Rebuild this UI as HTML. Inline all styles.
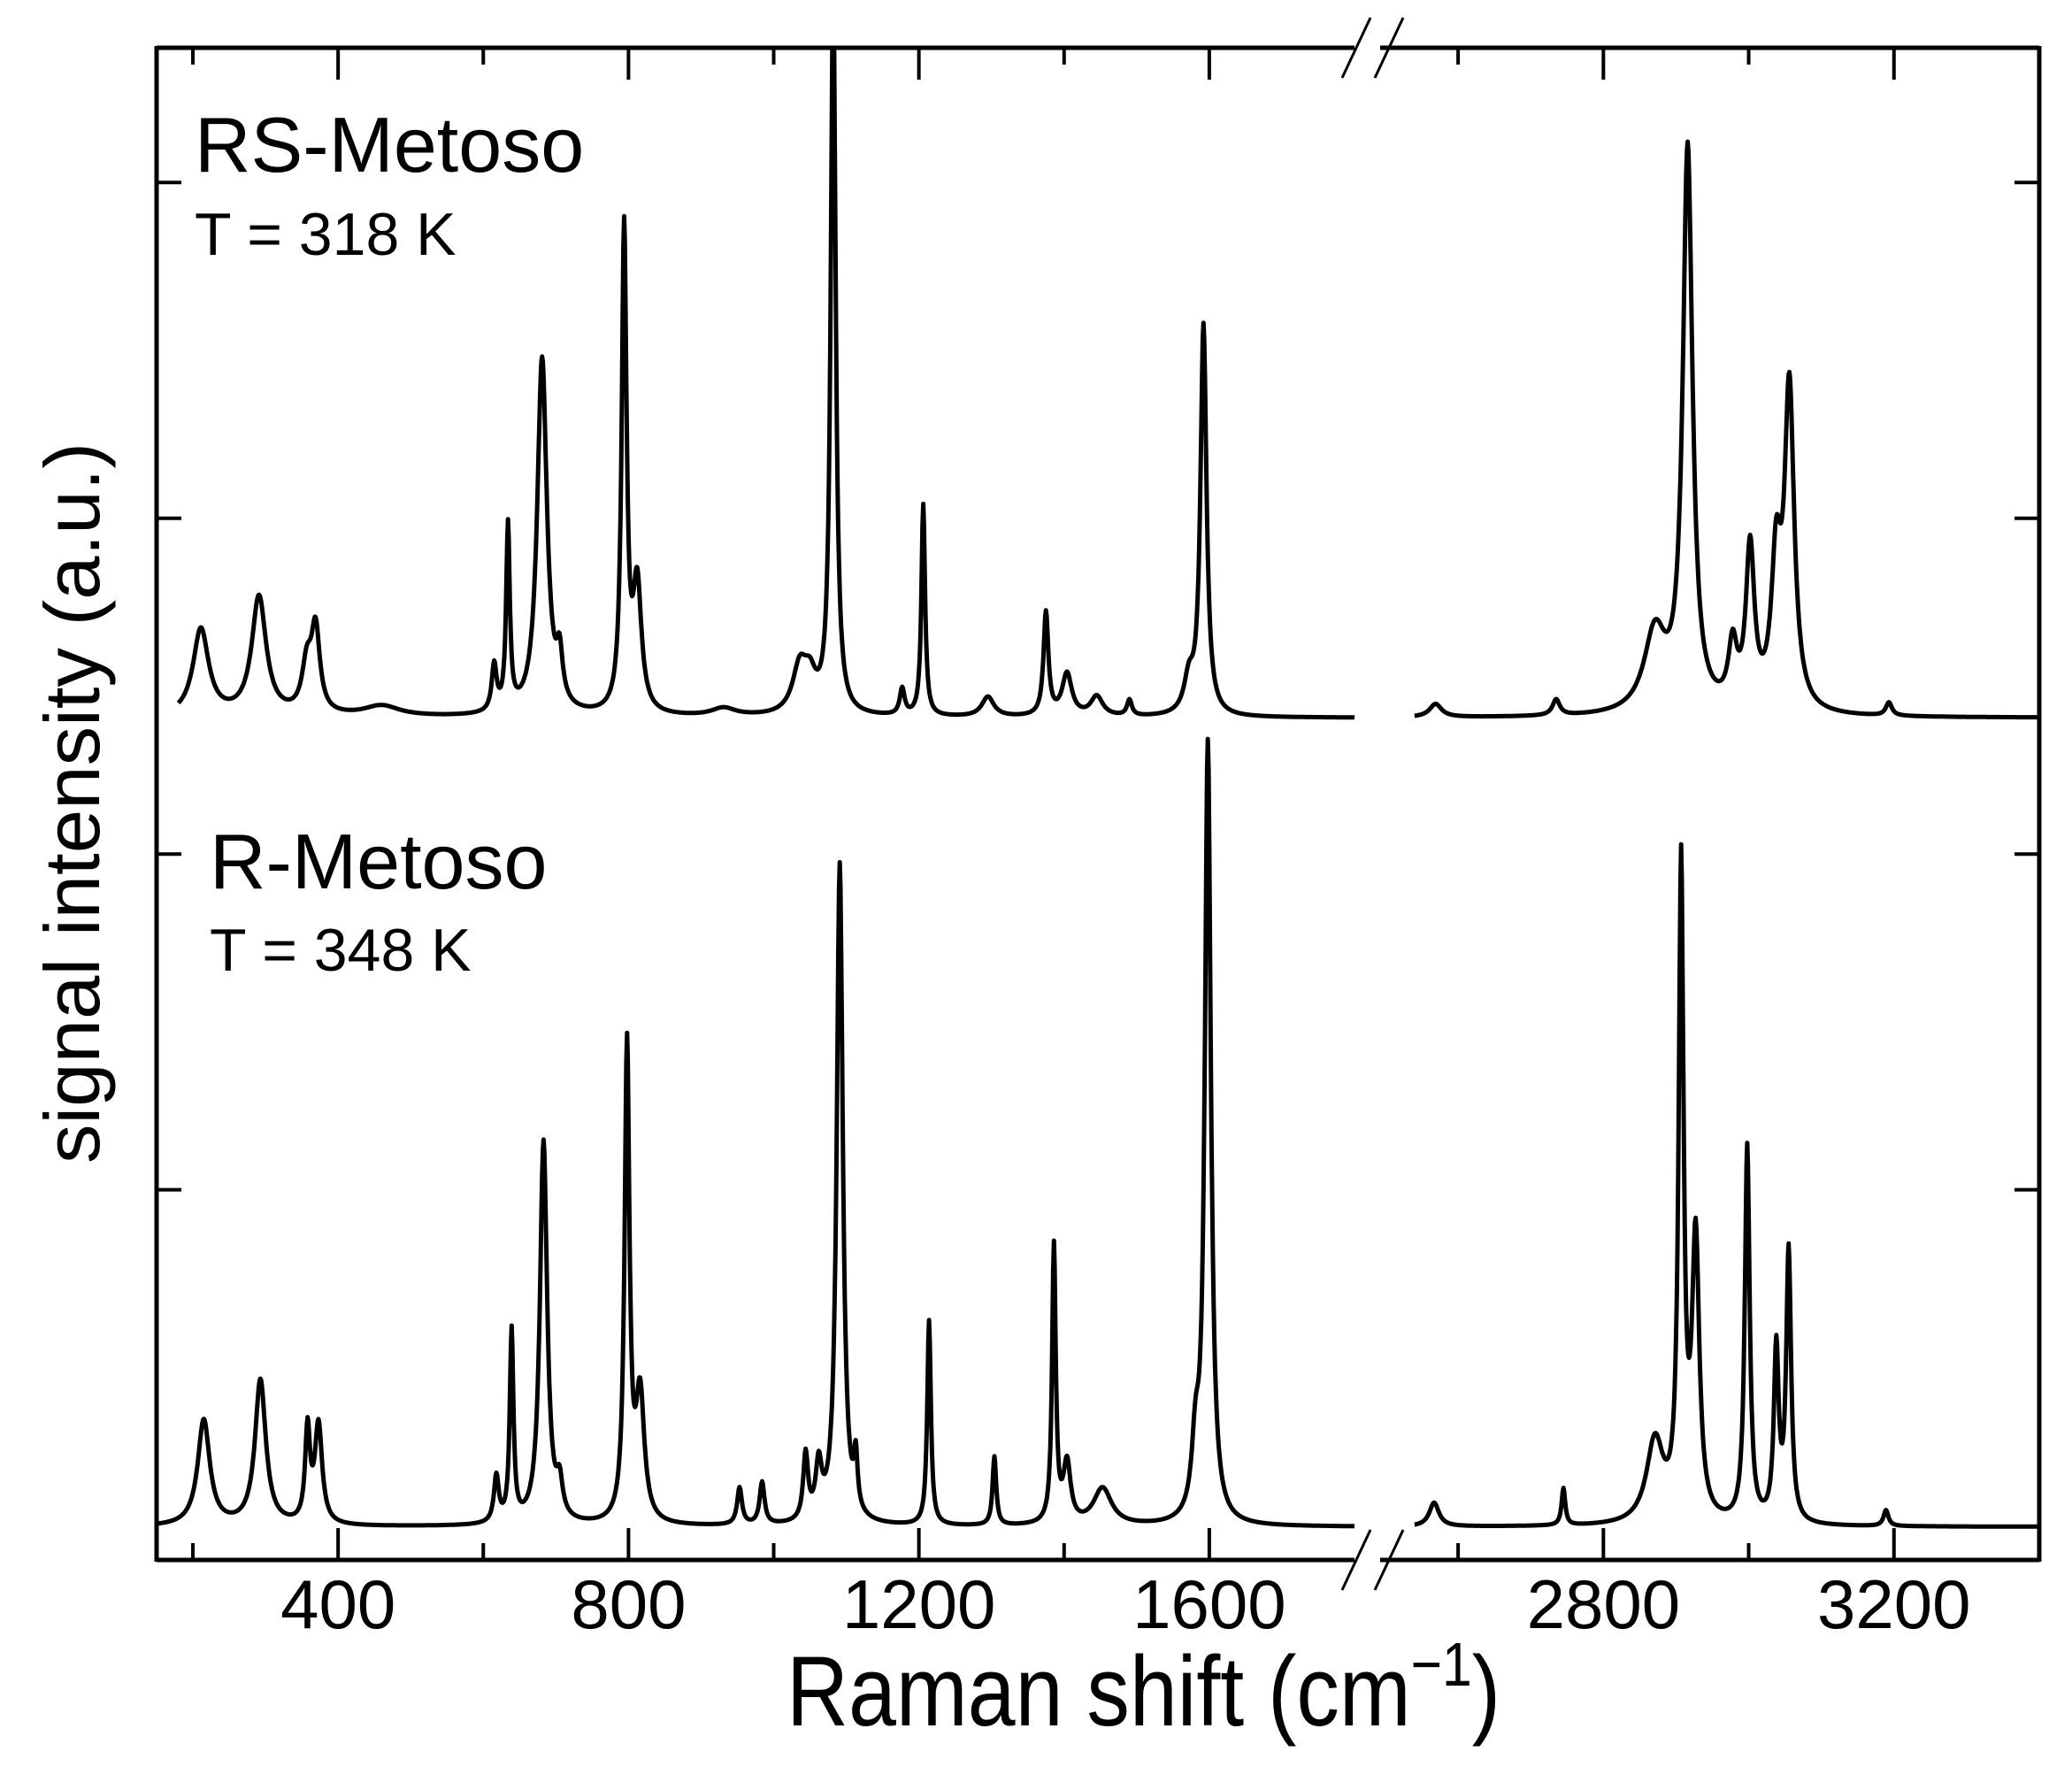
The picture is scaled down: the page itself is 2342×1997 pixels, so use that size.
<!DOCTYPE html>
<html><head><meta charset="utf-8"><style>
html,body{margin:0;padding:0;background:#fff}
svg{display:block}
text{font-family:"Liberation Sans",Arial,sans-serif;fill:#000}
</style></head><body>
<svg id="chart" width="2342" height="1997" viewBox="0 0 2342 1997" xmlns="http://www.w3.org/2000/svg">
<defs><clipPath id="plotclip"><rect x="177" y="54" width="2128" height="1709"/></clipPath></defs>
<g id="series" clip-path="url(#plotclip)"></g>
<g id="axes"></g>
<text x="220" y="194" font-size="88">RS-Metoso</text>
<text x="220" y="288" font-size="68">T = 318 K</text>
<text x="237" y="1004" font-size="88">R-Metoso</text>
<text x="237" y="1097" font-size="68">T = 348 K</text>
<text x="889" y="1950" font-size="112" textLength="807" lengthAdjust="spacingAndGlyphs">Raman shift (cm<tspan font-size="70" dy="-45">−1</tspan><tspan dy="45">)</tspan></text>
<text transform="translate(112,1315) rotate(-90)" x="0" y="0" font-size="88" textLength="815" lengthAdjust="spacingAndGlyphs">signal intensity (a.u.)</text>
</svg>
<script>
// x tick labels (cm-1)
const xTicksLeft = [400, 800, 1200, 1600];
const xMinorLeft = [200, 600, 1000, 1400];
const xTicksRight = [2800, 3200];
const xMinorRight = [2600, 3000];
const yTicks = [280, 534, 788, 1042];
// spectra: peak positions (cm-1), heights above baseline, widths (HWHM cm-1)
const rsBaseline = 637;
const rsPos    = [211, 291, 357, 369, 460, 615, 634, 681, 705, 794, 812, 931, 1036, 1050, 1082, 1177, 1206, 1295, 1375, 1404, 1445, 1490, 1572, 1592, 2569, 2735, 2871, 2916, 2978, 3002, 3038, 3056, 3193];
const rsHeight = [66, 90, 35, 62, 8, 35, 140, 270, 35, 365, 95, 6, 35, 22, 560, 20, 160, 15, 78, 32, 15, 12, 25, 295, 10, 12, 60, 425, 45, 120, 105, 240, 10];
const rsWidth  = [13, 12, 8, 7, 30, 4, 3, 8, 5, 4, 7, 20, 12, 10, 4, 4, 3, 10, 4, 8, 10, 4, 8, 5, 10, 6, 18, 8, 7, 7, 8, 8, 5];
const rBaseline = 25;
const rPos    = [215, 293, 358, 373, 618, 639, 683, 705, 798, 816, 953, 984, 1044, 1062, 1091, 1113, 1214, 1304, 1386, 1404, 1453, 1581, 1598, 2567, 2745, 2871, 2907, 2927, 2998, 3038, 3055, 3189];
const rHeight = [80, 110, 70, 75, 35, 145, 290, 25, 360, 95, 28, 32, 50, 40, 500, 40, 155, 52, 210, 45, 28, 50, 590, 18, 28, 62, 490, 210, 285, 130, 205, 12];
const rWidth  = [10, 9, 4, 6, 4, 3, 6, 5, 4, 7, 4, 4, 4, 5, 5, 3, 3, 3, 3, 6, 15, 6, 5, 8, 3, 14, 4, 6, 4, 4, 4, 4];

const SVGNS = "http://www.w3.org/2000/svg";
const L0 = 150, L1 = 1800, R0 = 2500, R1 = 3400;
const PX0 = 177, PX1 = 1531, PX2 = 1566, PX3 = 2305;
function xScale(v){ return v <= 1800 ? PX0 + (v - L0) / (L1 - L0) * (PX1 - PX0) : PX2 + (v - R0) / (R1 - R0) * (PX3 - PX2); }
function yScale(v){ return 1763 - v * 1.494; }
function spectrum(x, base, pos, h, w){
  let s = base;
  for (let i = 0; i < pos.length; i++){ const d = (x - pos[i]) / w[i]; s += h[i] / (1 + d * d); }
  return s;
}
function pathFor(a, b, base, pos, h, w){
  let d = "";
  for (let x = a; x <= b; x += 1){ d += (x === a ? "M" : "L") + xScale(x).toFixed(1) + "," + yScale(spectrum(x, base, pos, h, w)).toFixed(1); }
  return d;
}
const series = document.getElementById("series");
function addLine(d, name){
  const p = document.createElementNS(SVGNS, "path");
  p.setAttribute("d", d);
  p.setAttribute("fill", "none");
  p.setAttribute("stroke", "#000");
  p.setAttribute("stroke-width", "5");
  p.setAttribute("stroke-linejoin", "round");
  
  
  series.appendChild(p);
}
addLine(pathFor(180, 1800, rsBaseline, rsPos, rsHeight, rsWidth), "rs-metoso-spectrum-low");
addLine(pathFor(2540, 3400, rsBaseline, rsPos, rsHeight, rsWidth), "rs-metoso-spectrum-high");
addLine(pathFor(150, 1800, rBaseline, rPos, rHeight, rWidth), "r-metoso-spectrum-low");
addLine(pathFor(2540, 3400, rBaseline, rPos, rHeight, rWidth), "r-metoso-spectrum-high");

const axes = document.getElementById("axes");
function line(x1, y1, x2, y2, sw, name){
  const l = document.createElementNS(SVGNS, "line");
  l.setAttribute("x1", x1); l.setAttribute("y1", y1); l.setAttribute("x2", x2); l.setAttribute("y2", y2);
  l.setAttribute("stroke", "#000"); l.setAttribute("stroke-width", sw);
  
  
  axes.appendChild(l);
}
const TOP = 54, BOT = 1763;
line(PX0, TOP, 1531, TOP, 5, "top-axis-left");
line(1560, TOP, PX3, TOP, 5, "top-axis-right");
line(PX0, BOT, 1531, BOT, 5, "bottom-axis-left");
line(1560, BOT, PX3, BOT, 5, "bottom-axis-right");
line(PX0, TOP - 2, PX0, BOT + 2, 5, "left-axis");
line(PX3, TOP - 2, PX3, BOT + 2, 5, "right-axis");
xTicksLeft.concat(xTicksRight).forEach(function(v){
  const x = xScale(v);
  line(x, BOT, x, BOT - 36, 4, "x-major-tick");
  line(x, TOP, x, TOP + 36, 4, "x-major-tick-top");
  const t = document.createElementNS(SVGNS, "text");
  t.setAttribute("x", x); t.setAttribute("y", 1840);
  t.setAttribute("text-anchor", "middle"); t.setAttribute("font-size", "78");
  t.textContent = v;
  
  
  axes.appendChild(t);
});
xMinorLeft.concat(xMinorRight).forEach(function(v){
  const x = xScale(v);
  line(x, BOT, x, BOT - 19, 4, "x-minor-tick");
  line(x, TOP, x, TOP + 19, 4, "x-minor-tick-top");
});
yTicks.forEach(function(v){
  const y = yScale(v);
  line(PX0, y, PX0 + 28, y, 4, "y-tick-left");
  line(PX3, y, PX3 - 28, y, 4, "y-tick-right");
});
// axis break marks
[[TOP, "top"], [BOT, "bottom"]].forEach(function(p){
  const y = p[0];
  line(1549, y - 34, 1517, y + 34, 3, "axis-break-mark-" + p[1]);
  line(1586, y - 34, 1554, y + 34, 3, "axis-break-mark-" + p[1]);
});
</script>
</body></html>
